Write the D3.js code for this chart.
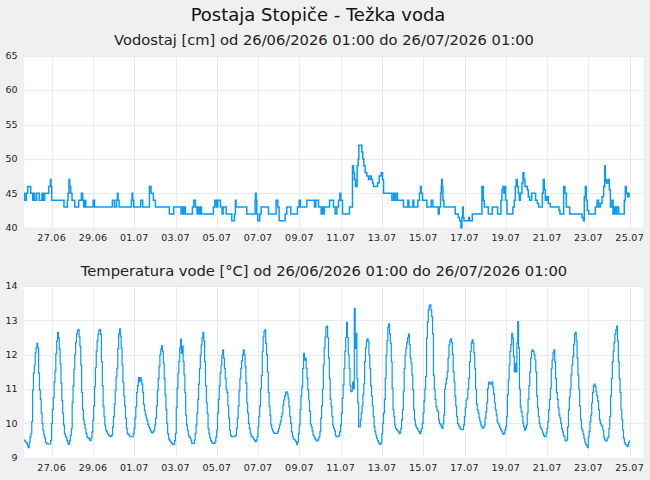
<!DOCTYPE html>
<html><head><meta charset="utf-8">
<script src="https://cdn.jsdelivr.net/npm/d3@7"></script>
<style>
html,body{margin:0;padding:0;background:#f0f0f0;}
svg{display:block;font-family:"DejaVu Sans",sans-serif;}
</style></head><body>
<svg id="c" width="650" height="480"></svg>
<script>
// ---------- data ----------
const chartTitle = "Postaja Stopiče - Težka voda";
const levelTitle = "Vodostaj [cm] od 26/06/2026 01:00 do 26/07/2026 01:00";
const tempTitle = "Temperatura vode [°C] od 26/06/2026 01:00 do 26/07/2026 01:00";
const startTime = "2026-06-25T15:48:00Z";   // first sample (plot left edge)
const spanHours = 720;

// hourly water temperature [°C]
const temperature = [
9.51,9.48,9.45,9.42,9.35,9.29,9.45,9.6,9.7,10.05,10.97,11.46,11.7,12.05,12.2,12.33,12.2,11.46,10.97,10.7,10.3,10.0,9.8,9.66,
9.58,9.45,9.42,9.4,9.4,9.4,9.4,9.5,10.0,10.4,10.75,11.2,11.52,12.03,12.4,12.65,12.48,12.17,11.73,11.17,10.66,10.3,9.95,9.7,
9.62,9.58,9.5,9.42,9.39,9.5,9.65,9.85,10.61,11.09,11.57,12.0,12.35,12.6,12.7,12.74,12.52,12.25,11.7,10.9,10.4,10.1,9.97,9.85,
9.71,9.61,9.58,9.56,9.52,9.5,9.58,9.75,10.1,10.5,11.07,11.62,12.1,12.4,12.6,12.7,12.74,12.59,11.8,11.1,10.5,10.2,9.95,9.8,
9.76,9.69,9.66,9.64,9.61,9.63,9.66,9.9,10.2,10.55,10.95,11.35,11.6,12.18,12.6,12.75,12.54,12.2,11.7,11.2,10.8,10.5,10.15,9.85,
9.71,9.68,9.66,9.61,9.61,9.61,9.61,9.71,9.85,10.15,10.49,10.9,11.1,11.33,11.21,11.33,11.26,11.14,10.9,10.55,10.38,10.25,10.15,10.08,
9.97,9.9,9.85,9.78,9.73,9.72,9.76,9.8,9.95,10.15,10.5,10.95,11.3,11.65,12.0,12.16,12.26,12.09,11.75,11.3,10.83,10.4,10.0,9.7,
9.55,9.51,9.47,9.44,9.4,9.39,9.39,9.5,9.71,10.46,11.02,11.46,11.8,12.2,12.45,12.04,12.25,11.8,11.41,10.9,10.24,9.95,9.8,9.65,
9.6,9.58,9.51,9.42,9.42,9.42,9.51,9.7,9.95,10.3,10.7,11.14,11.6,11.99,12.28,12.5,12.65,12.4,11.8,11.1,10.6,10.29,9.85,9.7,
9.58,9.5,9.45,9.42,9.42,9.42,9.47,9.6,9.8,10.3,10.7,11.1,11.46,11.7,11.99,12.14,11.9,11.6,11.3,11.0,10.9,10.5,10.15,9.8,
9.65,9.62,9.61,9.61,9.61,9.63,9.66,9.85,10.15,10.5,10.95,11.3,11.6,11.82,12.0,12.14,11.99,11.65,11.17,10.6,10.3,10.0,9.85,9.71,
9.63,9.6,9.58,9.53,9.5,9.47,9.51,9.61,9.9,10.2,10.5,11.0,11.4,12.09,12.52,12.67,12.72,12.33,12.0,11.5,10.9,10.5,10.24,9.95,
9.85,9.78,9.73,9.71,9.71,9.71,9.71,9.76,9.85,9.95,10.05,10.2,10.3,10.53,10.68,10.8,10.9,10.92,10.85,10.73,10.49,10.2,10.0,9.75,
9.62,9.55,9.53,9.49,9.47,9.39,9.45,9.7,9.95,10.4,10.8,11.07,11.6,12.04,11.84,11.9,11.6,11.31,10.97,10.68,10.35,9.98,9.9,9.78,
9.66,9.61,9.56,9.52,9.49,9.49,9.55,9.61,9.76,10.15,10.5,11.0,11.7,12.2,12.52,12.79,12.83,12.5,11.9,11.3,10.7,10.49,10.2,9.95,
9.85,9.78,9.65,9.61,9.61,9.61,9.65,9.75,9.95,10.29,10.73,11.12,11.6,12.1,12.5,12.94,12.5,11.99,11.6,11.1,10.92,10.95,11.2,11.02,
13.35,12.18,12.62,11.3,10.6,9.9,9.9,10.1,10.3,10.5,10.83,11.15,11.8,12.2,12.4,12.46,12.38,11.99,11.6,11.1,10.8,10.5,10.2,9.9,
9.76,9.66,9.56,9.5,9.44,9.4,9.39,9.45,9.7,10.0,10.3,10.7,11.31,11.99,12.4,12.8,12.9,12.6,12.33,11.8,11.02,10.4,10.2,9.95,
9.85,9.82,9.8,9.76,9.7,9.72,9.85,10.1,10.4,10.92,11.6,11.99,12.2,12.35,12.5,12.6,12.3,11.9,11.75,11.41,10.97,10.4,10.1,9.95,
9.88,9.85,9.8,9.76,9.7,9.75,9.85,10.0,10.3,10.65,11.0,11.36,12.48,12.96,13.3,13.42,13.45,13.3,13.11,12.6,11.4,11.0,10.7,10.49,
10.39,10.34,10.1,10.0,9.95,9.9,9.85,9.99,10.24,11.0,11.15,11.3,11.5,11.9,12.28,12.4,12.46,12.35,12.0,11.5,11.2,10.78,10.5,10.2,
10.0,9.95,9.9,9.85,9.82,9.82,9.82,9.95,10.2,10.45,10.68,10.73,11.0,11.3,11.8,12.1,12.35,12.43,12.33,12.05,11.6,11.0,10.55,10.4,
10.3,10.15,10.05,9.95,9.9,9.86,9.88,9.95,10.15,10.34,10.6,11.02,11.2,11.18,11.14,11.15,11.21,11.05,10.85,10.6,10.4,10.25,10.05,9.99,
9.95,9.88,9.82,9.78,9.72,9.68,9.71,9.8,9.9,10.2,10.83,11.26,11.7,12.1,12.3,12.62,12.48,11.95,11.5,11.75,11.5,12.33,12.96,12.2,
11.0,10.49,10.34,10.2,10.0,9.9,9.8,9.85,9.95,10.3,10.7,11.1,11.5,11.9,12.1,12.14,12.09,12.0,11.85,11.5,10.8,10.45,10.2,10.0,
9.9,9.85,9.8,9.72,9.65,9.61,9.61,9.72,9.85,10.05,10.4,10.7,11.02,11.6,11.85,12.05,12.14,11.8,11.3,10.9,10.7,10.45,10.24,10.15,
10.0,9.85,9.75,9.65,9.61,9.5,9.49,9.52,9.9,10.4,10.75,11.0,11.41,11.7,11.95,12.3,12.6,12.65,12.4,11.9,11.41,11.0,10.5,10.1,
9.85,9.78,9.68,9.56,9.45,9.39,9.35,9.29,9.6,9.76,10.05,10.24,10.6,10.9,11.1,11.14,11.07,10.92,10.8,10.65,10.4,10.1,10.0,9.95,
9.9,9.8,9.6,9.52,9.49,9.49,9.56,9.61,9.85,10.2,10.8,11.3,11.8,12.1,12.35,12.6,12.72,12.83,12.4,11.8,11.3,10.9,10.4,10.1,
9.8,9.56,9.44,9.39,9.39,9.32,9.35,9.45,9.5
];

// water level [cm]: hours after start at which the reading changes, and the new reading
const levelHours = [
0,0.8,2.7,4.3,7.8,10.1,11.2,12.4,14.7,17.8,20.9,22.5,24.0,28.7,30.6,31.4,32.2,46.5,50.4,51.2,
52.3,53.1,54.3,55.8,59.0,63.6,66.7,68.2,69.4,70.6,71.8,80.4,82.0,102.7,105.1,107.4,108.6,109.3,110.5,124.8,
125.6,126.4,127.6,135.7,138.0,145.8,147.7,150.4,152.8,169.0,174.1,182.6,183.8,185.3,186.5,187.6,195.8,197.3,199.3,201.2,
202.4,203.9,205.1,206.3,220.2,221.8,223.7,225.3,228.4,230.3,231.5,235.0,241.6,244.7,245.8,246.6,259.0,268.7,269.1,269.9,
270.6,271.8,274.1,275.7,284.2,293.1,295.1,296.6,303.6,305.5,310.2,317.9,319.9,321.4,328.8,337.7,339.3,342.4,345.5,346.6,
347.8,349.0,355.2,359.8,361.7,363.7,365.6,367.2,368.3,370.3,378.4,381.9,383.1,384.2,385.4,387.3,388.5,389.3,392.8,393.9,
395.1,396.6,398.6,400.5,402.5,403.6,405.2,406.3,411.0,412.9,415.2,416.8,418.0,427.7,429.6,430.4,432.3,434.2,441.2,446.3,
447.4,452.1,453.2,457.9,459.8,461.0,461.8,463.3,468.4,473.4,475.4,481.6,482.8,484.3,485.1,485.5,486.3,487.0,488.2,501.4,
504.9,506.4,508.0,509.1,509.9,510.7,511.5,516.9,518.0,521.2,532.4,534.0,535.1,539.8,544.4,550.6,554.5,555.7,556.8,558.0,
559.1,559.9,561.5,568.4,570.0,571.2,572.3,573.5,574.7,575.8,577.0,578.9,580.1,581.2,582.4,585.1,586.3,587.8,590.2,594.8,
596.8,598.3,602.6,603.7,604.9,606.1,608.0,609.5,611.9,621.9,623.1,627.4,628.9,630.5,634.4,648.7,650.3,651.4,652.6,653.7,
654.9,656.5,664.2,666.2,668.1,670.0,672.0,673.9,675.1,675.8,677.0,678.9,680.5,681.7,683.6,684.8,686.3,687.9,689.4,691.4,
697.9,699.1,700.3,701.8,703.4,704.5
];
const levelValues = [
45,44,45,46,45,44,45,44,45,44,45,44,45,46,47,46,44,43,44,45,
47,46,45,44,43,44,45,44,43,44,43,44,43,44,43,44,45,44,43,44,
45,44,43,44,43,46,45,44,43,42,43,42,43,42,43,42,43,44,43,42,
43,42,43,42,43,44,43,44,43,42,43,42,41,42,44,43,42,44,45,44,
42,41,42,43,42,44,43,41,42,43,42,43,44,43,44,43,44,43,42,43,
42,43,44,43,42,43,44,45,44,42,43,49,48,47,46,49,50,52,51,50,
49,48,47.5,47,47.5,47,46.5,46,46.5,47.5,48,47,45,44,45,44,45,44,43,44,
43,44,43,44,45,46,45,44,43,44,43,42,43,45,46,47,46,44,43,42,
41.5,41,40,41.5,43,41.5,41,41.5,41,42,46,44,43,42,43,42,44,45.5,46,45,
46,44,42,43,44,46,47,46,45,44,45,46.5,48,47,46,45.5,44.5,44,45,44,
43.5,43,45,47,45.5,44,44.5,43.5,43,42.5,42,46,45,43,42,41.5,41,44.5,46,44,
42.5,42,43,44,43,43.5,44.5,46,49,47,46.5,47,45.5,43,44,42,43,42,43,42,
44,46,45,44.5,45,45
];

const levelTicks = [40, 45, 50, 55, 60, 65];
const tempTicks = [9, 10, 11, 12, 13, 14];
const dateTicks = ["2026-06-27","2026-06-29","2026-07-01","2026-07-03","2026-07-05","2026-07-07",
  "2026-07-09","2026-07-11","2026-07-13","2026-07-15","2026-07-17","2026-07-19","2026-07-21",
  "2026-07-23","2026-07-25"];

// ---------- drawing ----------
const svg = d3.select("#c");
const t0 = new Date(startTime);
const hourMs = 3600 * 1000;
const left = 24, right = 643.3;
const lineColor = "#0a99f7";
const gridColor = "#ebebeb";

const x = d3.scaleUtc().domain([t0, new Date(+t0 + spanHours * hourMs)]).range([left, right]);
const ticks = dateTicks.map(s => new Date(s + "T00:00:00Z"));
const fmt = d3.utcFormat("%d.%m");

svg.append("text").attr("x", 318).attr("y", 21).attr("text-anchor", "middle")
  .attr("font-size", 18).attr("fill", "#111").text(chartTitle);

function panel(top, bottom, yDomain, yTicks, title, data, width) {
  const y = d3.scaleLinear().domain(yDomain).range([bottom, top]);
  const g = svg.append("g");
  g.append("text").attr("x", 324).attr("y", top - 10.3).attr("text-anchor", "middle")
    .attr("font-size", 14.7).attr("fill", "#222").text(title);
  g.append("rect").attr("x", left).attr("y", top).attr("width", right - left)
    .attr("height", bottom - top).attr("fill", "#fff");
  g.append("g").selectAll("line").data(yTicks).join("line")
    .attr("x1", left).attr("x2", right)
    .attr("y1", d => Math.round(y(d)) + 0.5).attr("y2", d => Math.round(y(d)) + 0.5)
    .attr("stroke", gridColor).attr("stroke-width", 1);
  g.append("g").selectAll("line").data(ticks).join("line")
    .attr("x1", d => Math.round(x(d)) + 0.5).attr("x2", d => Math.round(x(d)) + 0.5)
    .attr("y1", top).attr("y2", bottom)
    .attr("stroke", gridColor).attr("stroke-width", 1);
  g.append("g").selectAll("text").data(yTicks).join("text")
    .attr("x", 17.5).attr("y", d => y(d)).attr("dy", "0.35em").attr("text-anchor", "end")
    .attr("font-size", 9.5).attr("fill", "#222").text(d => d);
  g.append("g").selectAll("text").data(ticks).join("text")
    .attr("x", d => x(d)).attr("y", bottom + 13).attr("text-anchor", "middle")
    .attr("font-size", 9.5).attr("fill", "#222").attr("letter-spacing", 0.3).text(d => fmt(d));
  const line = d3.line().curve(d3.curveStepAfter)
    .x(d => x(d.t)).y(d => y(d.v));
  g.append("path").datum(data).attr("d", line).attr("fill", "none")
    .attr("stroke", lineColor).attr("stroke-width", width).attr("stroke-linejoin", "miter");
}

const levelData = levelHours.map((h, i) => ({ t: new Date(+t0 + h * hourMs), v: levelValues[i] }));
const tempData = temperature.map((v, i) => ({ t: new Date(+t0 + i * hourMs), v }));

panel(55.7, 227.7, [40, 65], levelTicks, levelTitle, levelData, 1.5);
panel(286, 457.7, [9, 14], tempTicks, tempTitle, tempData, 1.2);
</script>
</body></html>
